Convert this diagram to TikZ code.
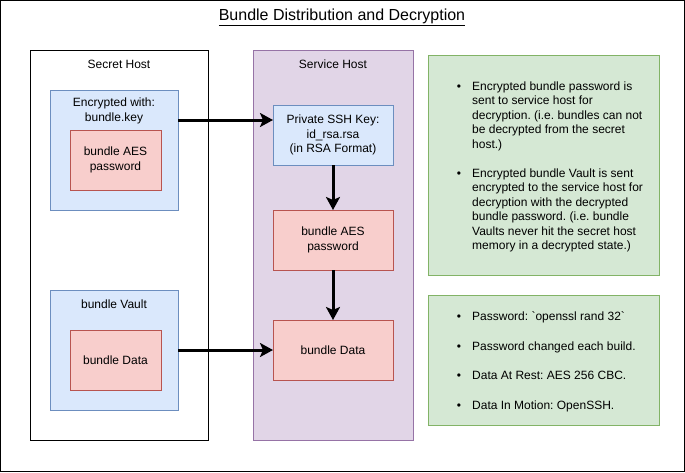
\documentclass[tikz,border=0pt]{standalone}
\usepackage{fontspec}
\setmainfont{Liberation Sans}[Ligatures=TeXOff]
\usetikzlibrary{arrows.meta}
\frenchspacing

\definecolor{cdae8fc}{RGB}{218,232,252}
\definecolor{c6c8ebf}{RGB}{108,142,191}
\definecolor{cf8cecc}{RGB}{248,206,204}
\definecolor{cb85450}{RGB}{184,84,80}
\definecolor{ce1d5e7}{RGB}{225,213,231}
\definecolor{c9673a6}{RGB}{150,115,166}
\definecolor{cd5e8d4}{RGB}{213,232,212}
\definecolor{c82b366}{RGB}{130,179,102}

\tikzset{
  box/.style={inner sep=0pt, outer sep=0pt, line width=1pt},
  hostbox/.style={box, draw=black, fill=white, minimum width=178pt, minimum height=390pt},
  svcbox/.style={box, draw=c9673a6, fill=ce1d5e7, minimum width=160pt, minimum height=390pt},
  bluebox/.style={box, draw=c6c8ebf, fill=cdae8fc, minimum width=128pt, minimum height=120pt},
  redbox/.style={box, draw=cb85450, fill=cf8cecc, minimum width=91pt, minimum height=60pt},
  keybox/.style={box, draw=c6c8ebf, fill=cdae8fc, minimum width=120pt, minimum height=60pt},
  databox/.style={box, draw=cb85450, fill=cf8cecc, minimum width=120pt, minimum height=60pt},
  notebox/.style={box, draw=c82b366, fill=cd5e8d4, minimum width=231pt},
  txt/.style={inner sep=0pt, align=center, font=\fontsize{12}{14.5}\selectfont},
  bullettxt/.style={inner sep=0pt, align=left, anchor=north west, font=\fontsize{12}{14.5}\selectfont},
  bulletdot/.style={inner sep=0pt, anchor=base, font=\fontsize{12}{14.5}\selectfont},
  flow/.style={line width=3pt, -{Stealth[length=13pt, width=14pt, inset=3pt]}}
}

\begin{document}
\begin{tikzpicture}[x=1pt, y=-1pt]
\useasboundingbox (0,0) rectangle (685,472);
\draw[line width=1pt] (0.5,0.5) rectangle (684.5,471.5);

% title
\node[txt, font=\fontsize{16}{19}\selectfont] (title) at (342,17) {\underline{Bundle Distribution and Decryption}};

% secret host
\node[hostbox] (secret) at (119,245) {};
\node[txt] (secretlbl) at (119,64) {Secret Host};
\node[bluebox] (enc) at (114,150) {};
\node[txt] (enclbl) at (114,111) {Encrypted with:\\bundle.key};
\node[redbox] (encpw) at (115.5,160) {};
\node[txt] (encpwlbl) at (encpw) {bundle AES\\password};
\node[bluebox] (vault) at (114,350) {};
\node[txt] (vaultlbl) at (114,304) {bundle Vault};
\node[redbox] (vaultdata) at (115.5,360) {};
\node[txt] (vaultdatalbl) at (vaultdata) {bundle Data};

% service host
\node[svcbox] (service) at (333,245) {};
\node[txt] (servicelbl) at (333,64) {Service Host};
\node[keybox] (ssh) at (333,135) {};
\node[txt] (sshlbl) at (ssh) {Private SSH Key:\\id\_rsa.rsa\\(in RSA Format)};
\node[databox] (svcpw) at (333,240) {};
\node[txt] (svcpwlbl) at (svcpw) {bundle AES\\password};
\node[databox] (svcdata) at (333,350) {};
\node[txt] (svcdatalbl) at (svcdata) {bundle Data};

% connectors
\coordinate (encout) at ([yshift=30pt]enc.east);
\draw[flow] (encout) -- (encout -| ssh.west);
\draw[flow] (ssh.south) -- (svcpw.north);
\draw[flow] (svcpw.south) -- (svcdata.north);
\draw[flow] (vault.east) -- (svcdata.west);

% notes
\node[notebox, minimum height=220pt] (note1) at (543.5,165) {};
\node[bulletdot] (dot1) at (459,90.3) {\textbullet};
\node[bullettxt] (item1) at (472,81.5) {Encrypted bundle password is\\sent to service host for\\decryption. (i.e. bundles can not\\be decrypted from the secret\\host.)};
\node[bulletdot] (dot2) at (459,177.3) {\textbullet};
\node[bullettxt] (item2) at (472,168.5) {Encrypted bundle Vault is sent\\encrypted to the service host for\\decryption with the decrypted\\bundle password. (i.e. bundle\\Vaults never hit the secret host\\memory in a decrypted state.)};

\node[notebox, minimum height=130pt] (note2) at (543.5,360) {};
\foreach \y/\t [count=\i from 3] in {320.3/{Password: `openssl rand 32`}, 350.3/Password changed each build., 379.6/Data At Rest: AES 256 CBC., 409.3/Data In Motion: OpenSSH.} {
  \node[bulletdot] (dot\i) at (459,\y) {\textbullet};
  \node[bulletdot, anchor=base west] (item\i) at (472,\y) {\t};
}
\end{tikzpicture}
\end{document}
